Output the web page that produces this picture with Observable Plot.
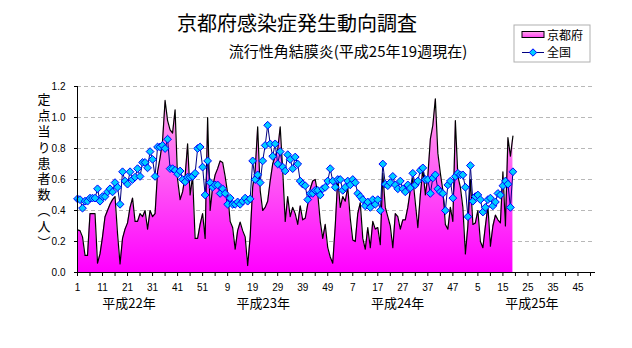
<!DOCTYPE html>
<html><head><meta charset="utf-8">
<script src="https://cdn.jsdelivr.net/npm/d3@7"></script>
<script src="https://cdn.jsdelivr.net/npm/@observablehq/plot@0.6"></script>
<style>body{margin:0;background:#fff}</style>
</head><body><div id="chart"></div>
<script>
// ---- data ----
const seriesNames = ["京都府", "全国"];
const kyoto = [
0.275,0.27,0.23,0.11,0.11,0.38,0.38,0.38,0.06,0.12,
0.23,0.36,0.40,0.44,0.47,0.49,0.25,0.055,0.22,0.28,
0.32,0.42,0.48,0.33,0.33,0.38,0.36,0.40,0.28,0.40,
0.36,0.38,0.65,0.74,0.85,1.11,0.98,0.92,0.90,1.05,
0.60,0.47,0.52,0.62,0.83,0.50,0.62,0.22,0.22,0.31,
0.38,0.22,1.00,0.40,0.55,0.63,0.67,0.72,0.71,0.62,
0.51,0.33,0.29,0.15,0.27,0.325,0.27,0.23,0.045,0.23,
0.55,0.66,0.94,0.53,0.40,0.42,0.46,0.59,0.70,0.75,
0.79,0.94,0.66,0.33,0.49,0.36,0.42,0.38,0.31,0.43,
0.34,0.35,0.44,0.54,0.59,0.60,0.51,0.33,0.22,0.31,
0.16,0.10,0.06,0.30,0.61,0.42,0.49,0.46,0.55,0.35,
0.21,0.20,0.38,0.45,0.22,0.15,0.29,0.16,0.33,0.28,
0.29,0.18,0.64,0.42,0.36,0.30,0.16,0.38,0.36,0.28,
0.34,0.34,0.42,0.53,0.61,0.45,0.29,0.50,0.67,0.50,
0.62,0.86,0.95,1.12,0.77,0.64,0.53,0.31,0.28,0.42,
0.33,0.98,0.62,0.55,0.42,0.12,0.30,0.60,0.31,0.32,
0.40,0.20,0.16,0.30,0.43,0.17,0.30,0.37,0.34,0.32,
0.65,0.30,0.87,0.75,0.88];
const zenkoku = [
0.475,0.47,0.415,0.46,0.46,0.48,0.48,0.48,0.54,0.46,
0.49,0.49,0.52,0.54,0.52,0.58,0.55,0.44,0.65,0.59,
0.57,0.65,0.60,0.615,0.67,0.62,0.71,0.71,0.675,0.78,
0.73,0.62,0.81,0.81,0.82,0.80,0.86,0.67,0.67,0.66,
0.635,0.655,0.60,0.585,0.615,0.615,0.62,0.64,0.80,0.81,
0.68,0.50,0.72,0.58,0.55,0.565,0.565,0.51,0.54,0.51,
0.44,0.48,0.44,0.44,0.455,0.44,0.46,0.48,0.46,0.475,
0.72,0.60,0.63,0.58,0.72,0.82,0.95,0.83,0.75,0.83,
0.70,0.78,0.68,0.655,0.76,0.73,0.67,0.745,0.70,0.59,
0.57,0.56,0.47,0.51,0.51,0.53,0.53,0.50,0.54,0.55,
0.59,0.67,0.59,0.55,0.60,0.60,0.53,0.55,0.59,0.565,
0.60,0.58,0.51,0.49,0.47,0.43,0.455,0.42,0.47,0.44,
0.47,0.40,0.70,0.57,0.56,0.58,0.62,0.565,0.54,0.59,
0.54,0.52,0.565,0.545,0.64,0.565,0.59,0.66,0.675,0.60,
0.60,0.51,0.61,0.63,0.54,0.52,0.51,0.40,0.565,0.59,
0.48,0.62,0.64,0.63,0.63,0.55,0.36,0.69,0.46,0.49,
0.50,0.47,0.39,0.42,0.47,0.48,0.43,0.455,0.51,0.50,
0.56,0.59,0.57,0.42,0.65];
const yTicks = [0.0, 0.2, 0.4, 0.6, 0.8, 1.0, 1.2];
const xTickLabels = ["1","11","21","31","41","51","9","19","29","39","49","7","17","27","37","47","5","15","25","35","45"];
const yearLabels = ["平成22年", "平成23年", "平成24年", "平成25年"];
const weeksPerYear = 52;
const titleText = "京都府感染症発生動向調査";
const subtitleText = "流行性角結膜炎(平成25年19週現在)";
const yTitleText = "定点当り患者数（人）";

// ---- build ----
const totalWeeks = weeksPerYear * yearLabels.length;
const data = kyoto.map((v, i) => ({w: i + 1, kyoto: v, zenkoku: zenkoku[i]}));
const W = 632, H = 348;
const font = "'Noto Sans CJK JP', 'Liberation Sans', sans-serif";

const chart = Plot.plot({
  width: W, height: H,
  marginLeft: 77, marginRight: 37, marginTop: 86, marginBottom: 76,
  style: {fontSize: "10px", fontFamily: "'Liberation Sans', sans-serif", color: "#000", background: "#fff"},
  x: {domain: [1, totalWeeks], ticks: d3.range(1, totalWeeks + 1, 5),
      tickFormat: i => (i - 1) % 10 === 0 ? xTickLabels[(i - 1) / 10] : "",
      tickSize: 4, tickPadding: 7, label: null},
  y: {domain: [0, 1.2], ticks: yTicks, tickFormat: d => d.toFixed(1),
      tickSize: 3, tickPadding: 9, label: null},
  marks: [
    Plot.ruleY(yTicks.filter(d => d > 0), {stroke: "#b8b8b8", strokeDasharray: "4,3"}),
    Plot.areaY(data, {x: "w", y: "kyoto", fill: "url(#kgrad)"}),
    Plot.lineY(data, {x: "w", y: "kyoto", stroke: "#000", strokeWidth: 1.2}),
    Plot.lineY(data, {x: "w", y: "zenkoku", stroke: "#000080", strokeWidth: 1}),
    Plot.dot(data, {x: "w", y: "zenkoku", symbol: "diamond2", r: 3.5, fill: "#00ccff", stroke: "#0000ff", strokeWidth: 1}),
    Plot.ruleX([1], {stroke: "#000"}),
    Plot.ruleY([0], {stroke: "#000"})
  ]
});
document.getElementById("chart").appendChild(chart);

const svg = d3.select(chart);
const defs = svg.insert("defs", ":first-child");
const g = defs.append("linearGradient").attr("id", "kgrad")
  .attr("gradientUnits", "userSpaceOnUse").attr("x1", 0).attr("x2", 0)
  .attr("y1", 86).attr("y2", 272);
g.append("stop").attr("offset", "0%").attr("stop-color", "#ffb0ea");
g.append("stop").attr("offset", "100%").attr("stop-color", "#ff00ff");
const g2 = defs.append("linearGradient").attr("id", "kgrad2")
  .attr("x1", 0).attr("x2", 0).attr("y1", 0).attr("y2", 1);
g2.append("stop").attr("offset", "0%").attr("stop-color", "#ffa8ec");
g2.append("stop").attr("offset", "100%").attr("stop-color", "#ff40f0");

// titles
svg.append("text").attr("x", 297).attr("y", 31).attr("text-anchor", "middle")
  .style("font-family", font).style("font-size", "20px").text(titleText);
svg.append("text").attr("x", 348).attr("y", 57).attr("text-anchor", "middle")
  .style("font-family", font).style("font-size", "15px").text(subtitleText);

// y title (vertical writing, one text)
svg.append("text").attr("x", 44).attr("y", 93)
  .attr("writing-mode", "vertical-rl").attr("text-anchor", "start")
  .style("font-family", font).style("font-size", "13px").style("letter-spacing", "2.8px")
  .text(yTitleText);

// year labels
yearLabels.forEach((t, k) => {
  svg.append("text").attr("x", 129 + k * 134.3).attr("y", 308).attr("text-anchor", "middle")
    .style("font-family", font).style("font-size", "13px").text(t);
});

// legend
const lg = svg.append("g").attr("text-anchor", "start");
lg.append("rect").attr("x", 514).attr("y", 25).attr("width", 76).attr("height", 37)
  .attr("fill", "#fff").attr("stroke", "#b0b0b0");
lg.append("rect").attr("x", 522).attr("y", 31.5).attr("width", 22).attr("height", 6)
  .attr("fill", "url(#kgrad2)").attr("stroke", "#000");
lg.append("text").attr("x", 547).attr("y", 39.5).style("font-family", font).style("font-size", "12px").text(seriesNames[0]);
lg.append("line").attr("x1", 522).attr("x2", 544).attr("y1", 52.5).attr("y2", 52.5).attr("stroke", "#000080");
lg.append("path").attr("d", "M533,48.8L536.7,52.5L533,56.2L529.3,52.5Z").attr("fill", "#00ccff").attr("stroke", "#0000ff");
lg.append("text").attr("x", 547).attr("y", 57).style("font-family", font).style("font-size", "12px").text(seriesNames[1]);
</script>
</body></html>
